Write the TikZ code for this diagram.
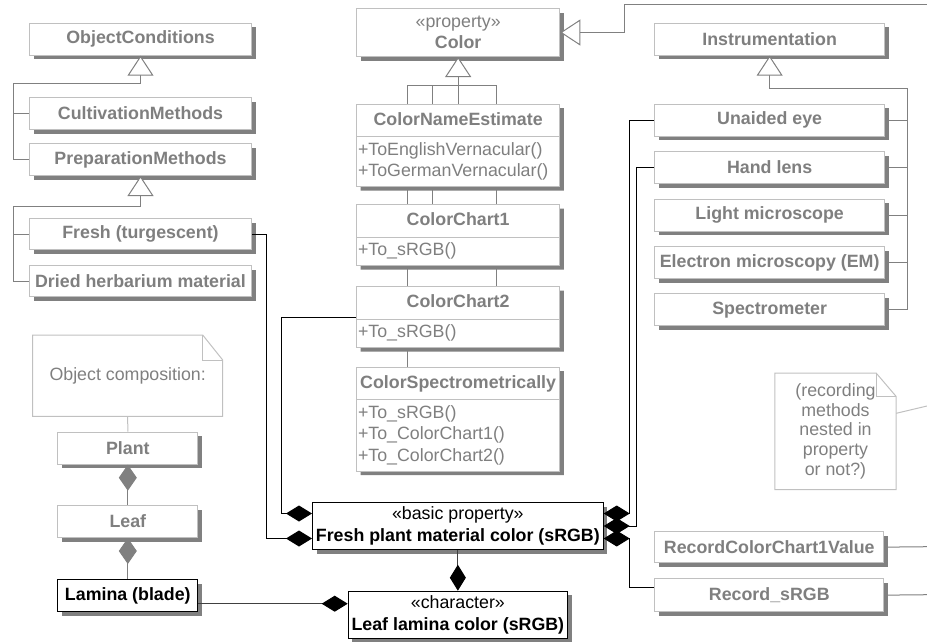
\documentclass[tikz,border=0pt]{standalone}
\usepackage{fontspec}
\setmainfont{Liberation Sans}
\usepackage{tikz}
\usetikzlibrary{
  arrows.meta,
  shapes.multipart,
  calc,
  backgrounds,
  shadows
}
\definecolor{umlText}{HTML}{7F7F7F}
\definecolor{umlBorder}{HTML}{C0C0C0}
\definecolor{umlShadow}{HTML}{808080}
\definecolor{umlLine}{HTML}{808080}
\definecolor{umlDark}{HTML}{404040}
\newcommand{\umlfont}{\fontsize{17.8pt}{21.5pt}\selectfont}
\newcommand{\opshead}[1]{{\centering\bfseries\rule[-8pt]{0pt}{25.5pt}#1\par}}
\tikzset{
  umlnode/.style={
    draw=umlBorder, fill=white, text=umlText, anchor=north west,
    inner sep=0pt, font=\umlfont, align=center, line width=1pt,
    drop shadow={shadow xshift=4pt, shadow yshift=-4pt, fill=umlShadow, opacity=1}
  },
  classbox/.style={umlnode, font=\umlfont\bfseries, minimum height=32pt},
  keybox/.style={umlnode, draw=black, text=black},
  opsbox/.style={umlnode, rectangle split, rectangle split parts=2,
    text width=200.3pt, inner xsep=1.5pt, inner ysep=3pt, align=left},
  notebox/.style={text=umlText, font=\umlfont, align=center, inner sep=0pt},
  notefold/.style={draw=umlBorder, line width=1pt},
  genline/.style={draw=umlLine, line width=1pt},
  gentip/.style={-{Triangle[length=20pt, width=26pt, fill=white]}},
  composite/.style={{Diamond[length=26pt, width=16pt]}-, draw=black, line width=1pt},
  darkcomposite/.style={{Diamond[length=26pt, width=16pt, black]}-, draw=umlDark, line width=1pt},
  partof/.style={{Diamond[length=26pt, width=18pt]}-, draw=umlShadow, line width=1pt},
  assoc/.style={draw=umlLine, line width=1pt}
}

\begin{document}
\begin{tikzpicture}[x=1pt, y=-1pt]
  \useasboundingbox (0,0) rectangle (927,641);

  \node[classbox, minimum width=222pt] (objcond) at (29,22.7) {ObjectConditions};
  \node[classbox, minimum width=222pt] (cult) at (29,97) {CultivationMethods};
  \node[classbox, minimum width=222pt] (prep) at (29,143) {PreparationMethods};
  \node[classbox, minimum width=222pt, minimum height=31pt] (fresh) at (29,218) {Fresh (turgescent)};
  \node[classbox, minimum width=222pt, minimum height=31pt] (dried) at (29,265) {Dried herbarium material};

  \node[notebox, minimum width=189.6pt, minimum height=81pt, anchor=north west] (objnote) at (32.7,335) {Object composition:};
  \draw[notefold] (objnote.north west) -- ($(objnote.north east)+(-20,0)$) -- ($(objnote.north east)+(0,25)$) -- (objnote.south east) -- (objnote.south west) -- cycle;
  \draw[notefold] ($(objnote.north east)+(-20,0)$) |- ($(objnote.north east)+(0,25)$);

  \node[classbox, minimum width=140pt] (plant) at (57.3,431.7) {Plant};
  \node[classbox, minimum width=140pt] (leaf) at (57.3,505) {Leaf};
  \node[classbox, draw=black, text=black, minimum width=140pt] (lamina) at (57.3,579) {Lamina (blade)};

  \node[umlnode, minimum width=203.3pt, minimum height=48pt] (color) at (356,8) {«property»\\\textbf{Color}};
  \node[opsbox] (cne) at (356,103.7) {\opshead{ColorNameEstimate}\nodepart{two}\strut+ToEnglishVernacular()\\\strut+ToGermanVernacular()};
  \node[opsbox] (cc1) at (356,204) {\opshead{ColorChart1}\nodepart{two}\strut+To\_sRGB()};
  \node[opsbox] (cc2) at (356,286) {\opshead{ColorChart2}\nodepart{two}\strut+To\_sRGB()};
  \node[opsbox] (cspec) at (356,366.7) {\opshead{ColorSpectrometrically}\nodepart{two}\strut+To\_sRGB()\\\strut+To\_ColorChart1()\\\strut+To\_ColorChart2()};

  \node[keybox, minimum width=290.7pt, minimum height=47pt] (fpm) at (312,502) {«basic property»\\\textbf{Fresh plant material color (sRGB)}};
  \node[keybox, minimum width=219.3pt, minimum height=47pt] (llc) at (347.7,590.7) {«character»\\\textbf{Leaf lamina color (sRGB)}};

  \node[classbox, minimum width=229.7pt] (instr) at (654.3,22.7) {Instrumentation};
  \node[classbox, minimum width=229.7pt] (eye) at (654.3,103.7) {Unaided eye};
  \node[classbox, minimum width=229.7pt] (lens) at (654.3,151) {Hand lens};
  \node[classbox, minimum width=229.7pt] (lmic) at (654.3,198.7) {Light microscope};
  \node[classbox, minimum width=229.7pt] (em) at (654.3,246) {Electron microscopy (EM)};
  \node[classbox, minimum width=229.7pt] (spec) at (654.3,293.3) {Spectrometer};

  \node[notebox, minimum width=121pt, minimum height=116pt, font=\fontsize{17.8pt}{19.8pt}\selectfont] (recnote) at (835.5,431.3) {(recording\\methods\\nested in\\property\\or not?)};
  \draw[notefold] (recnote.north west) -- ($(recnote.north east)+(-20,0)$) -- ($(recnote.north east)+(0,23.4)$) -- (recnote.south east) -- (recnote.south west) -- cycle;
  \draw[notefold] ($(recnote.north east)+(-20,0)$) |- ($(recnote.north east)+(0,23.4)$);

  \node[classbox, minimum width=229pt, minimum height=31.3pt] (rcc) at (654.3,531) {RecordColorChart1Value};
  \node[classbox, minimum width=229pt, minimum height=32.7pt] (rsrgb) at (654.3,578.3) {Record\_sRGB};

  \coordinate (ocbus) at ($(objcond.south)+(0,28)$);
  \coordinate (prepbus) at ($(prep.south)+(0,30)$);
  \coordinate (colbus) at ($(color.south)+(0,28)$);
  \coordinate (instrbus) at ($(instr.south)+(0,33)$);
  \coordinate (offtop) at (927,4);
  \coordinate (offnote) at (927,406);
  \coordinate (offrcc) at (927,546.7);
  \coordinate (offrsrgb) at (927,594.7);
  \coordinate (lamjoin) at ($(llc.west)+(0,-11)$);

  \begin{scope}[on background layer]
    \draw[genline] (cult.west) -- ++(-16,0);
    \draw[genline] (prep.west) -- ++(-16,0) |- (ocbus);
    \draw[genline] (fresh.west) -- ++(-16,0);
    \draw[genline] (dried.west) -- ++(-16,0) |- (prepbus);
    \draw[genline] (cne.north) -- (colbus);
    \draw[genline] ($(cc1.north west)+(76,0)$) |- (colbus);
    \draw[genline] ($(cc2.north west)+(140,0)$) |- (colbus);
    \draw[genline] ($(cspec.north west)+(51,0)$) |- (colbus);
    \foreach \n in {eye, lens, lmic, em}
      \draw[genline] (\n.east) -- ++(22,0);
    \draw[genline] (spec.east) -- ++(22,0) |- (instrbus);
    \draw[assoc] (rcc.east) -- (offrcc);
    \draw[assoc] (rsrgb.east) -- (offrsrgb);
  \end{scope}
  \draw[genline, gentip] (ocbus) -- (objcond.south);
  \draw[genline, gentip] (prepbus) -- (prep.south);
  \draw[genline, gentip] (colbus) -- (color.south);
  \draw[genline, gentip] (instrbus) -- (instr.south);
  \draw[genline, gentip] (offtop) -| ($(color.east)+(64,0)$) -- (color.east);

  \draw[composite] ($(fpm.west)+(0,-12.5)$) -- ++(-31,0) |- (cc2.west);
  \draw[composite] ($(fpm.west)+(0,12.5)$) -- ++(-46,0) |- (fresh.east);
  \draw[composite] ($(fpm.east)+(0,-12.5)$) -- ++(26,0) |- (eye.west);
  \draw[composite] (fpm.east) -- ++(33,0) |- (lens.west);
  \draw[composite] ($(fpm.east)+(0,12.5)$) -- ++(26,0) |- ($(rsrgb.west)+(0,-8)$);
  \draw[darkcomposite] (llc.north) -- (fpm.south);
  \draw[darkcomposite] (lamjoin) -- (lamjoin -| lamina.east);
  \draw[partof] (plant.south) -- (leaf.north);
  \draw[partof] (leaf.south) -- (lamina.north);
  \draw[notefold] (objnote.south) -- (plant.north);
  \draw[notefold] ($(recnote.east)+(0,-18)$) -- (offnote);
\end{tikzpicture}
\end{document}
